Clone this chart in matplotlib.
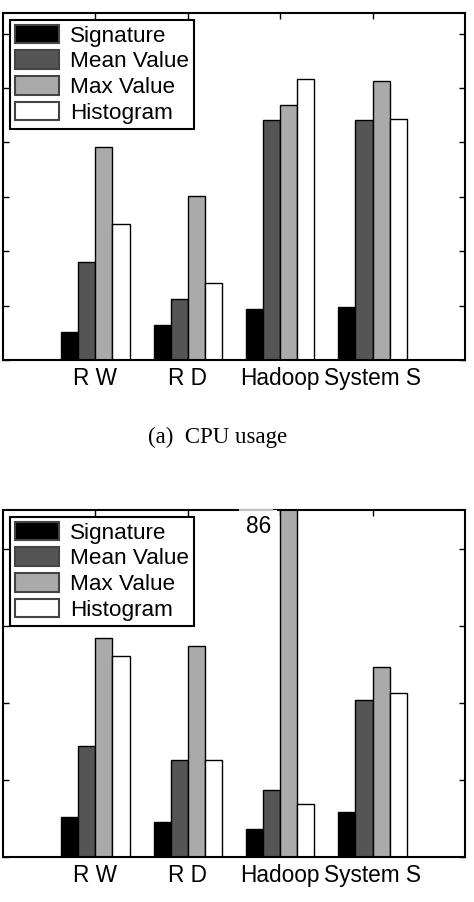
import matplotlib
matplotlib.use("Agg")
import matplotlib.pyplot as plt
from matplotlib.lines import Line2D
import numpy as np

categories = ["R W", "R D", "Hadoop", "System S"]
series_names = ["Signature", "Mean Value", "Max Value", "Histogram"]
colors = ["#000000", "#555555", "#aaaaaa", "#ffffff"]

cpu_signature = [5.1, 6.4, 9.4, 9.7]
cpu_mean = [18.0, 11.2, 44.2, 44.2]
cpu_max = [39.2, 30.1, 46.9, 51.3]
cpu_hist = [25.0, 14.2, 51.7, 44.4]

mem_signature = [5.2, 4.5, 3.6, 5.8]
mem_mean = [14.4, 12.6, 8.7, 20.3]
mem_max = [28.4, 27.3, 86.0, 24.6]
mem_hist = [26.1, 12.6, 6.8, 21.3]

caption_top = "(a)  CPU usage"

plt.rcParams['font.family'] = ['Liberation Sans', 'DejaVu Sans']

fig = plt.figure(figsize=(4.74, 9.02), dpi=100)
ax1 = fig.add_axes([0.0063, 0.6009, 0.9747, 0.3847])
ax2 = fig.add_axes([0.0063, 0.0502, 0.9747, 0.3844])

w = 0.185
x = np.arange(1, len(categories) + 1)


def draw(ax, data, ylim, yticks):
    for i, (vals, c, name) in enumerate(zip(data, colors, series_names)):
        ax.bar(x + (i - 1.5) * w, vals, width=w, color=c, edgecolor="black",
               linewidth=1.0, label=name, zorder=2)
    ax.set_xlim(0, 5)
    ax.set_ylim(*ylim)
    ax.set_xticks(x)
    ax.set_xticklabels(categories, fontsize=16.3)
    ax.set_yticks(yticks)
    ax.tick_params(axis="both", direction="in", top=True, right=True,
                   length=4, width=1, labelleft=False, pad=5)
    for s in ax.spines.values():
        s.set_linewidth(1.5)
    leg = ax.legend(loc="upper left", fontsize=16.2, handlelength=1.95,
                    handleheight=0.9, handletextpad=0.5, labelspacing=0.16,
                    borderpad=0.22, borderaxespad=0.3, fancybox=False,
                    framealpha=1, edgecolor="black")
    leg.get_frame().set_linewidth(1.5)
    for p in leg.get_patches():
        p.set_edgecolor("#444444")
        p.set_linewidth(1.5)
    return leg


draw(ax1, [cpu_signature, cpu_mean, cpu_max, cpu_hist], (0, 63.8), np.arange(0, 61, 10))
draw(ax2, [mem_signature, mem_mean, mem_max, mem_hist], (0, 45), np.arange(0, 41, 10))

ax2.text(2.77, 42.8, "%d" % mem_max[2], ha="center", va="center", fontsize=16.3,
         zorder=5, clip_on=False,
         bbox=dict(boxstyle="square,pad=0.25", fc="white", ec="none"))
ax2.add_line(Line2D([(240 - 3) / 462, (272 - 3) / 462], [1, 1],
                    transform=ax2.transAxes, color="#c0c0c0", lw=1.5,
                    zorder=6, clip_on=False))

fig.text(0.458, 1 - 437 / 902, caption_top, ha="center", va="center",
         fontsize=16.5, family=["Liberation Serif", "DejaVu Serif"])

fig.savefig("out.png", dpi=100)
